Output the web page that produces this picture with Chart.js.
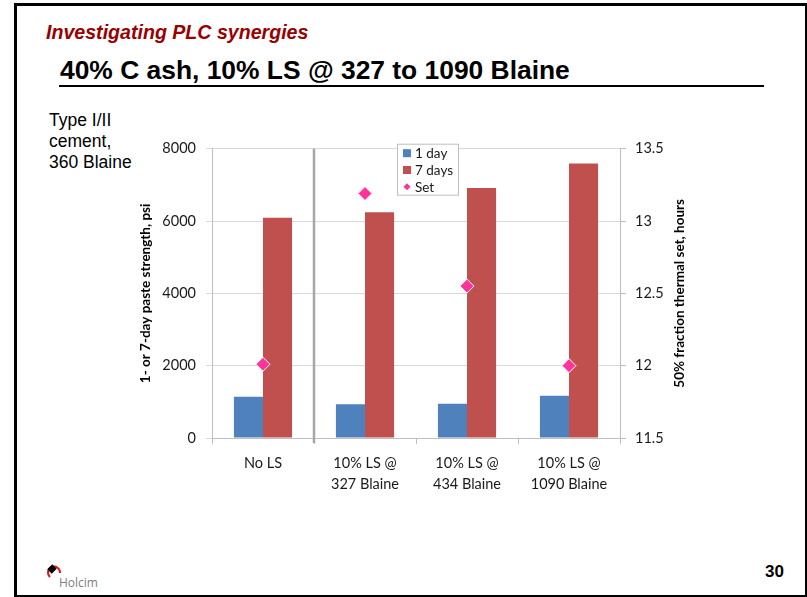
<!DOCTYPE html>
<html><head><meta charset="utf-8">
<script src="https://cdn.jsdelivr.net/npm/chart.js@4.4.0/dist/chart.umd.min.js"></script>
<style>
html,body{margin:0;padding:0;background:#fff;}
body{width:807px;height:597px;position:relative;overflow:hidden;font-family:"Liberation Sans",Arial,sans-serif;}
#frame{position:absolute;left:14px;top:3px;width:794px;height:595px;border:3px solid #000;box-sizing:border-box;}
#kicker{position:absolute;left:46px;top:20px;font-size:19.6px;font-weight:bold;font-style:italic;color:#990000;line-height:24px;white-space:nowrap;}
#title{position:absolute;left:60px;top:55px;font-size:26.4px;font-weight:bold;color:#000;line-height:30px;white-space:nowrap;}
#rule{position:absolute;left:59px;top:85px;width:705px;height:2px;background:#000;}
#note{position:absolute;left:49px;top:110px;font-size:17.5px;line-height:21px;color:#000;}
#page{position:absolute;left:765px;top:562px;font-size:17px;font-weight:bold;line-height:20px;}
#logo{position:absolute;left:44px;top:561px;}
#holcim{position:absolute;left:59px;top:575px;font-family:"Open Sans",sans-serif;font-size:12px;color:#808080;line-height:16px;}
#c{position:absolute;left:120px;top:130px;}
</style>
</head><body>
<div id="frame"></div>
<div id="kicker">Investigating PLC synergies</div>
<div id="title">40% C ash, 10% LS @ 327 to 1090 Blaine</div>
<div id="rule"></div>
<div id="note">Type I/II<br>cement,<br>360 Blaine</div>
<svg id="logo" width="22" height="22" viewBox="0 0 22 22">
  <path d="M6 16 A6 6 0 1 1 16 12" fill="none" stroke="#e0141e" stroke-width="2"/>
  <path d="M4 9 L9 4 M7 12 L12 7 M5.5 10.5 L10.5 5.5" stroke="#000" stroke-width="2" fill="none"/>
</svg>
<div id="holcim">Holcim</div>
<div id="page">30</div>
<canvas id="c" width="580" height="368"></canvas>
<script>
const categories = [["No LS"], ["10% LS @", "327 Blaine"], ["10% LS @", "434 Blaine"], ["10% LS @", "1090 Blaine"]];
const oneDay = [1140, 930, 950, 1170];
const sevenDays = [6090, 6240, 6910, 7590];
const setHours = [12.01, 13.19, 12.55, 12.0];
const strengthTicks = [0, 2000, 4000, 6000, 8000];
const setTicks = [11.5, 12, 12.5, 13, 13.5];
const leftTitle = '1- or 7-day paste strength, psi';
const rightTitle = '50% fraction thermal set, hours';

const FONT = "Lato, 'Open Sans', sans-serif";

const separator = {
  id: 'separator',
  beforeDatasetsDraw(chart) {
    const xs = chart.scales.x, ca = chart.chartArea, ctx = chart.ctx;
    const px = (xs.getPixelForValue(0) + xs.getPixelForValue(1)) / 2;
    ctx.save();
    ctx.strokeStyle = '#A6A6A6';
    ctx.lineWidth = 2.5;
    ctx.beginPath();
    ctx.moveTo(px, ca.top);
    ctx.lineTo(px, ca.bottom + 5);
    ctx.stroke();
    ctx.restore();
  }
};

const rightTitlePlugin = {
  id: 'rightTitle',
  afterDraw(chart) {
    const s = chart.scales.y1, ctx = chart.ctx;
    ctx.save();
    ctx.translate(s.right - 20, (s.top + s.bottom) / 2);
    ctx.rotate(-Math.PI / 2);
    ctx.font = "bold 13.5px " + FONT;
    ctx.fillStyle = '#000';
    ctx.textAlign = 'center';
    ctx.textBaseline = 'middle';
    ctx.fillText(rightTitle, 0, 0);
    ctx.restore();
  }
};

const boxLegend = {
  id: 'boxLegend',
  afterDatasetsDraw(chart) {
    const ctx = chart.ctx, ca = chart.chartArea;
    const left = ca.left + 185, top = ca.top - 5, w = 61, h = 51;
    ctx.save();
    ctx.fillStyle = '#fff';
    ctx.fillRect(left, top, w, h);
    ctx.strokeStyle = '#BFBFBF';
    ctx.lineWidth = 1;
    ctx.strokeRect(left + 0.5, top + 0.5, w, h);
    ctx.font = "13.5px " + FONT;
    ctx.textBaseline = 'middle';
    chart.data.datasets.forEach((ds, i) => {
      const cy = top + 9.5 + i * 16.8;
      ctx.fillStyle = ds.backgroundColor;
      if (ds.type === 'line') {
        ctx.beginPath();
        ctx.moveTo(left + 10, cy - 3.5);
        ctx.lineTo(left + 13.5, cy);
        ctx.lineTo(left + 10, cy + 3.5);
        ctx.lineTo(left + 6.5, cy);
        ctx.closePath();
        ctx.fill();
      } else {
        ctx.fillRect(left + 6, cy - 4, 8, 8);
      }
      ctx.fillStyle = '#1a1a1a';
      ctx.fillText(ds.label, left + 18, cy + 0.5);
    });
    ctx.restore();
  }
};

new Chart(document.getElementById('c'), {
  data: {
    labels: categories,
    datasets: [
      { type: 'bar', label: '1 day', data: oneDay, yAxisID: 'y', backgroundColor: '#4F81BD', order: 1 },
      { type: 'bar', label: '7 days', data: sevenDays, yAxisID: 'y', backgroundColor: '#C0504D', order: 1 },
      { type: 'line', label: 'Set', data: setHours, yAxisID: 'y1', showLine: false,
        pointStyle: 'rectRot', pointRadius: 7, pointHoverRadius: 7,
        backgroundColor: '#FF3399', borderColor: '#ffffff', borderWidth: 1, order: 0 }
    ]
  },
  options: {
    responsive: false,
    animation: false,
    devicePixelRatio: 1,
    layout: { padding: { left: 0, right: 0, top: 17, bottom: 0 } },
    datasets: { bar: { categoryPercentage: 0.57, barPercentage: 1.0, borderWidth: 0 } },
    plugins: { legend: { display: false }, tooltip: { enabled: false } },
    scales: {
      x: {
        offset: true,
        grid: { offset: true, drawOnChartArea: false, drawTicks: true, tickLength: 6, color: '#BFBFBF' },
        border: { color: '#BFBFBF' },
        ticks: { color: '#1a1a1a', font: { family: FONT, size: 14.5, lineHeight: 1.45 }, padding: 9, maxRotation: 0 },
        afterFit(s) { s.height = 60; }
      },
      y: {
        position: 'left',
        min: strengthTicks[0], max: strengthTicks[strengthTicks.length - 1],
        afterBuildTicks(s) { s.ticks = strengthTicks.map(v => ({ value: v })); },
        grid: { color: '#D9D9D9', tickLength: 6, drawTicks: true },
        border: { color: '#BFBFBF' },
        ticks: { color: '#1a1a1a', font: { family: FONT, size: 14.5 }, padding: 10, callback: v => String(v) },
        title: { display: true, text: leftTitle, color: '#000',
                 font: { family: FONT, size: 13.5, weight: 'bold' }, padding: { top: 17.5, bottom: 0 } },
        afterFit(s) { s.width = 92; }
      },
      y1: {
        position: 'right',
        min: setTicks[0], max: setTicks[setTicks.length - 1],
        afterBuildTicks(s) { s.ticks = setTicks.map(v => ({ value: v })); },
        grid: { drawOnChartArea: false, tickLength: 6, drawTicks: true, color: '#BFBFBF' },
        border: { color: '#BFBFBF' },
        ticks: { color: '#1a1a1a', font: { family: FONT, size: 14.5 }, padding: 9, callback: v => String(v) },
        title: { display: false },
        afterFit(s) { s.width = 80; }
      }
    }
  },
  plugins: [separator, rightTitlePlugin, boxLegend]
});
</script>
</body></html>
